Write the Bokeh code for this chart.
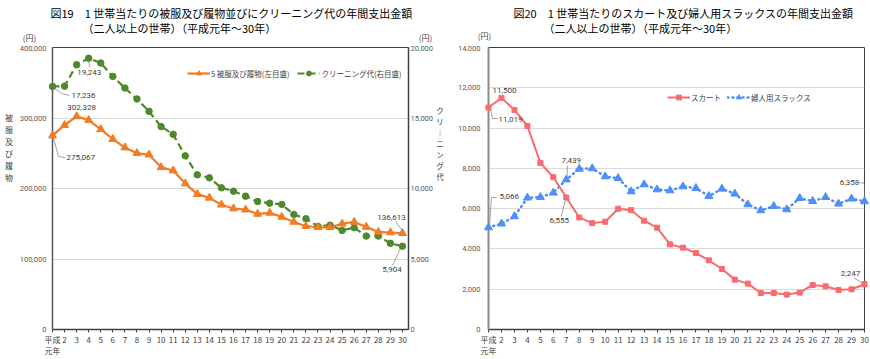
from bokeh.plotting import figure
from bokeh.models import (Range1d, LinearAxis, FixedTicker, SingleIntervalTicker,
                          NumeralTickFormatter, Legend, LegendItem, Label)
from bokeh.layouts import row, column
from bokeh.core.properties import value
from bokeh.embed import file_html
from bokeh.resources import INLINE

FONT = "Noto Sans CJK JP"
NUMFONT = "Roboto"

# ---------------- data ----------------
years = list(range(1, 31))
year_labels = ["平成\n元年"] + [str(y) for y in range(2, 31)]

# 図19: 被服及び履物 (left axis, 円) / クリーニング代 (right axis, 円)
clothing = [275067, 289800, 302328, 297000, 284000, 270000, 258000, 250000, 248000, 230000,
            225500, 207000, 192000, 186700, 177000, 171600, 170000, 164000, 165400, 159700,
            152600, 146500, 145000, 145000, 150000, 152600, 145500, 138400, 137600, 136613]
cleaning = [17236, 17260, 18775, 19243, 18900, 17950, 17125, 16350, 15470, 14390,
            13840, 12315, 10970, 10760, 10050, 9810, 9455, 9080, 8960, 8870,
            8160, 7855, 7310, 7400, 7030, 7220, 6625, 6625, 6110, 5904]

# 図20: スカート / 婦人用スラックス
skirt = [11019, 11500, 10900, 10106, 8273, 7560, 6555, 5563, 5281, 5350,
         5995, 5925, 5400, 5053, 4226, 4062, 3795, 3433, 3002, 2477,
         2279, 1813, 1813, 1734, 1833, 2210, 2145, 1962, 1997, 2247]
slacks = [5066, 5252, 5613, 6540, 6570, 6787, 7439, 7976, 8000, 7595,
          7510, 6852, 7198, 6950, 6901, 7100, 7015, 6619, 6985, 6738,
          6208, 5910, 6123, 5960, 6520, 6371, 6569, 6242, 6490, 6358]

title19 = ["図19　1 世帯当たりの被服及び履物並びにクリーニング代の年間支出金額",
           "（二人以上の世帯）（平成元年～30年）"]
title20 = ["図20　1 世帯当たりのスカート及び婦人用スラックスの年間支出金額",
           "（二人以上の世帯）（平成元年～30年）"]
legend19 = ["5 被服及び履物(左目盛)", "クリーニング代(右目盛)"]
legend20 = ["スカート", "婦人用スラックス"]
axis19_left = "被\n服\n及\nび\n履\n物"
axis19_right = "ク\nリ\n︱\nニ\nン\nグ\n代"
unit = "(円)"

C_ORANGE = "#F07D26"
C_GREEN = "#4E8A2C"
C_RED = "#F96B6E"
C_BLUE = "#4F8FF7"
TXT = "#404040"
H_HEAD = 45
H_CHART = 314


def blank_fig(width, height, xr, yr):
    p = figure(width=width, height=height, x_range=Range1d(*xr), y_range=Range1d(*yr),
               output_backend="svg", toolbar_location=None, min_border=0,
               x_axis_location=None, y_axis_location=None)
    p.title.visible = False
    p.grid.visible = False
    p.outline_line_color = None
    p.background_fill_color = "white"
    p.border_fill_color = "white"
    return p


def put_text(p, x, y, text, align="left", size="8px", color=TXT, font=FONT, lh=1.1):
    p.text(x=[x], y=[y], text=[text], text_align=align, text_baseline="middle",
           text_font=value(font), text_font_size=size, text_color=color, text_line_height=lh)


def style_yaxis(ax, standoff, color, width):
    ax.axis_line_color = color
    ax.axis_line_width = width
    ax.major_tick_line_color = None
    ax.minor_tick_line_color = None
    ax.major_tick_in = 0
    ax.major_tick_out = 0
    ax.minor_tick_in = 0
    ax.minor_tick_out = 0
    ax.formatter = NumeralTickFormatter(format="0,0")
    ax.major_label_text_font = NUMFONT
    ax.major_label_text_font_size = "7.5px"
    ax.major_label_text_color = "#595959"
    ax.major_label_standoff = standoff


def chart_fig(width, x_end, y_max, y_step, bl, br):
    p = figure(width=width, height=H_CHART, x_range=Range1d(1, x_end), y_range=Range1d(0, y_max),
               output_backend="svg", toolbar_location=None,
               min_border_left=bl, min_border_right=br, min_border_top=2, min_border_bottom=30)
    p.title.visible = False
    p.background_fill_color = "white"
    p.border_fill_color = "white"
    p.outline_line_color = "#404040"
    p.outline_line_width = 1
    p.xgrid.visible = False
    p.ygrid.grid_line_color = "#D9D9D9"
    p.ygrid.grid_line_width = 1
    xa = p.xaxis[0]
    xa.ticker = FixedTicker(ticks=years)
    xa.major_label_overrides = {y: lab for y, lab in zip(years, year_labels)}
    xa.axis_line_color = "#404040"
    xa.axis_line_width = 1.5
    xa.major_tick_in = 0
    xa.major_tick_out = 3
    xa.minor_tick_in = 0
    xa.minor_tick_out = 0
    xa.major_tick_line_color = "#404040"
    xa.minor_tick_line_color = None
    xa.major_label_text_font = FONT
    xa.major_label_text_font_size = "8px"
    xa.major_label_text_color = TXT
    xa.major_label_text_line_height = 1.05
    xa.major_label_standoff = 1
    ya = p.yaxis[0]
    ya.ticker = SingleIntervalTicker(interval=y_step)
    return p


def label(p, text, x, y, dx, dy, align="center", rng="default"):
    p.add_layout(Label(x=x, y=y, x_offset=dx, y_offset=-dy, text=text, text_align=align,
                       text_baseline="middle", text_font=NUMFONT, text_font_size="8px",
                       text_color=TXT, y_range_name=rng))


def leader(p, x, y, offs, xs, ys, rng="default"):
    p.line([x + dx / xs for dx, _ in offs], [y - dy / ys for _, dy in offs],
           line_color="#8C8C8C", line_width=0.8, y_range_name=rng)


def style_legend(leg, loc, spacing, size):
    leg.location = loc
    leg.orientation = "horizontal"
    leg.label_text_font = FONT
    leg.label_text_font_size = size
    leg.label_text_color = TXT
    leg.glyph_width = 23
    leg.glyph_height = 12
    leg.label_height = 12
    leg.label_standoff = 1
    leg.spacing = spacing
    leg.padding = 2
    leg.margin = 0
    leg.border_line_alpha = 0
    leg.background_fill_alpha = 0


# ---------------- header (titles and units) ----------------
head = blank_fig(870, H_HEAD, (0, 870), (H_HEAD, 0))
put_text(head, 50, 12.5, title19[0], size="11px", color="#000000")
put_text(head, 82, 27, title19[1], size="11px", color="#000000")
put_text(head, 29, 37, unit, align="center")
put_text(head, 425, 37, unit, align="center")
put_text(head, 513, 12.5, title20[0], size="11px", color="#000000")
put_text(head, 543, 27, title20[1], size="11px", color="#000000")
put_text(head, 484, 35, unit, align="center")

# ---------------- side axis names ----------------
sideL = blank_fig(16, H_CHART, (0, 16), (H_HEAD + H_CHART, H_HEAD))
put_text(sideL, 8.5, 156.5, axis19_left, align="center", size="8px")
sideM = blank_fig(8, H_CHART, (436, 444), (H_HEAD + H_CHART, H_HEAD))
put_text(sideM, 439.5, 151.5, axis19_right, align="center", size="7.5px", lh=1.0)

# ---------------- 図19 ----------------
pL = chart_fig(420, 30.5, 400000, 100000, 34, 26)
style_yaxis(pL.yaxis[0], 6, "#595959", 1.5)
pL.extra_y_ranges = {"clean": Range1d(0, 20000)}
ra = LinearAxis(y_range_name="clean", ticker=SingleIntervalTicker(interval=5000))
style_yaxis(ra, 2, "#404040", 1.5)
pL.add_layout(ra, "right")

lg = pL.line(years, cleaning, line_color=C_GREEN, line_width=2.2, line_dash="7 4", y_range_name="clean")
sg = pL.scatter(years, cleaning, marker="circle", size=6.5, fill_color=C_GREEN, line_color=C_GREEN,
                y_range_name="clean", level="overlay")
lo = pL.line(years, clothing, line_color=C_ORANGE, line_width=2.2)
so = pL.scatter(years, clothing, marker="triangle", size=8, fill_color=C_ORANGE, line_color=C_ORANGE,
                level="overlay")

legL = Legend(items=[LegendItem(label=legend19[0], renderers=[lo, so]),
                     LegendItem(label=legend19[1], renderers=[lg, sg])])
style_legend(legL, (133, 248), 8, "7.5px")
pL.add_layout(legL)

XS_L, YS_L, YS_C = 12.2, 282 / 400000, 282 / 20000
label(pL, f"{cleaning[3]:,}", years[3], cleaning[3], 0.5, 14, rng="clean")
leader(pL, years[3], cleaning[3], [(0, 3), (1, 9)], XS_L, YS_C, rng="clean")
label(pL, f"{cleaning[0]:,}", years[0], cleaning[0], 19, 9, align="left", rng="clean")
leader(pL, years[0], cleaning[0], [(1, 1), (9, 7), (17, 9)], XS_L, YS_C, rng="clean")
label(pL, f"{clothing[2]:,}", years[2], clothing[2], 5, -9)
label(pL, f"{clothing[0]:,}", years[0], clothing[0], 14, 22, align="left")
leader(pL, years[0], clothing[0], [(1, 2), (6, 21), (13, 22)], XS_L, YS_L)
label(pL, f"{clothing[29]:,}", years[29], clothing[29], -11, -16)
leader(pL, years[29], clothing[29], [(-7, -12), (0, -2)], XS_L, YS_L)
label(pL, f"{cleaning[29]:,}", years[29], cleaning[29], -10.5, 23, rng="clean")
leader(pL, years[29], cleaning[29], [(-10, 19), (-2, 2)], XS_L, YS_C, rng="clean")

# ---------------- 図20 ----------------
pR = chart_fig(426, 30, 14000, 2000, 44, 6)
style_yaxis(pR.yaxis[0], 8, "#8C8C8C", 2)

lb = pR.line(years, slacks, line_color=C_BLUE, line_width=2.5, line_dash="1 4", line_cap="round")
sb = pR.scatter(years, slacks, marker="triangle", size=8, fill_color=C_BLUE, line_color=C_BLUE,
                level="overlay")
lr = pR.line(years, skirt, line_color=C_RED, line_width=2)
sr = pR.scatter(years, skirt, marker="square", size=5, fill_color=C_RED, line_color=C_RED,
                level="overlay")

legR = Legend(items=[LegendItem(label=legend20[0], renderers=[lr, sr]),
                     LegendItem(label=legend20[1], renderers=[lb, sb])])
style_legend(legR, (177, 224), 6, "7.5px")
pR.add_layout(legR)

XS_R, YS_R = 376 / 29, 282 / 14000
label(pR, f"{skirt[1]:,}", years[1], skirt[1], 3, -7)
label(pR, f"{skirt[0]:,}", years[0], skirt[0], 10, 12, align="left")
leader(pR, years[0], skirt[0], [(2, 1), (4, 11), (9, 11)], XS_R, YS_R)
label(pR, f"{slacks[6]:,}", years[6], slacks[6], 5, -19)
leader(pR, years[6], slacks[6], [(1, -14), (1, -4)], XS_R, YS_R)
label(pR, f"{slacks[0]:,}", years[0], slacks[0], 11, -31, align="left")
leader(pR, years[0], slacks[0], [(1, -2), (3, -30), (8, -30)], XS_R, YS_R)
label(pR, f"{skirt[6]:,}", years[6], skirt[6], -7, 23)
leader(pR, years[6], skirt[6], [(-1, 3), (-5, 19)], XS_R, YS_R)
label(pR, f"{slacks[29]:,}", years[29], slacks[29], -15, -19)
leader(pR, years[29], slacks[29], [(-5, -19), (0, -18), (0, -4)], XS_R, YS_R)
label(pR, f"{skirt[29]:,}", years[29], skirt[29], -14, -11)
leader(pR, years[29], skirt[29], [(-10, -6), (-2, -1)], XS_R, YS_R)

layout = column(head, row(sideL, pL, sideM, pR), spacing=0)
open("out.html", "w").write(file_html(layout, INLINE))
